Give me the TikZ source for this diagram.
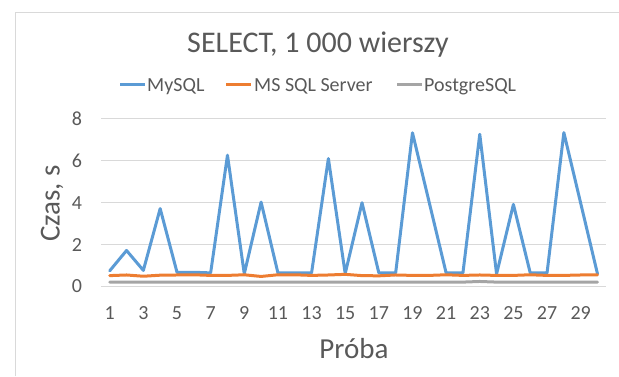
\documentclass[tikz,border=0pt]{standalone}
\usepackage{fontspec}
\setmainfont{Carlito}
\usepackage{tikz}
\usetikzlibrary{positioning,calc}
\definecolor{mysqlBlue}{RGB}{91,155,213}
\definecolor{mssqlOrange}{RGB}{237,125,49}
\definecolor{pgGray}{RGB}{165,165,165}
\definecolor{labelGray}{RGB}{89,89,89}
\definecolor{gridGray}{RGB}{217,217,217}
\tikzstyle{series}    =[line width=3pt, line join=round, line cap=round]
\tikzstyle{legendLine}=[line width=3pt]
\tikzstyle{gridLine}  =[draw=gridGray, line width=1pt]
\tikzstyle{tickLabel} =[text=labelGray, font=\fontsize{20}{24}\selectfont, inner sep=0pt]
\tikzstyle{legendText}=[text=labelGray, font=\fontsize{20}{24}\selectfont, inner sep=0pt, anchor=base west]
\tikzstyle{axisTitle} =[text=labelGray, font=\fontsize{29}{34}\selectfont, inner sep=0pt]
\tikzstyle{chartTitle}=[text=labelGray, font=\fontsize{30}{36}\selectfont, inner sep=0pt]

\begin{document}
\begin{tikzpicture}[x=1pt,y=1pt]
      \useasboundingbox (0,0) rectangle (619,376);
      \draw[gridLine] (15.7,0) -- (15.7,363.3) -- (619,363.3);
      \node [chartTitle, anchor=base] (title) at (318,324) {SELECT, 1 000 wierszy};
      \coordinate (lgMy) at (120,292);
      \coordinate (lgMs) at (226,292);
      \coordinate (lgPg) at (397,292);
      \draw[legendLine, mysqlBlue]   (lgMy) -- ++(25,0);
      \draw[legendLine, mssqlOrange] (lgMs) -- ++(25,0);
      \draw[legendLine, pgGray]      (lgPg) -- ++(25,0);
      \node [legendText] (lgMyText) at ($(lgMy)+(27,-7)$) {MySQL};
      \node [legendText] (lgMsText) at ($(lgMs)+(28,-7)$) {MS SQL Server};
      \node [legendText] (lgPgText) at ($(lgPg)+(27,-7)$) {PostgreSQL};
      \node [axisTitle, rotate=90] (yTitle) at (52,172.5) {Czas, s};
      \node [axisTitle, anchor=base] (xTitle) at (354,18) {Próba};
      \begin{scope}[shift={(92.9,89.5)}, x=16.82pt, y=20.94pt]
        \foreach \v in {0,2,...,8} {
          \draw[gridLine] (0.5,\v) -- (30.5,\v);
          \node [tickLabel, anchor=east, xshift=-19pt] (yt\v) at (0.5,\v) {\v};
        }
        \foreach \t in {1,3,...,29}
          \node [tickLabel, anchor=base, yshift=-32.5pt] (xt\t) at (\t,0) {\t};
        \draw[series, mysqlBlue] plot coordinates {
          (1,0.75) (2,1.72) (3,0.77) (4,3.72) (5,0.68) (6,0.68) (7,0.65) (8,6.27)
          (9,0.61) (10,4.03) (11,0.65) (12,0.65) (13,0.65) (14,6.11) (15,0.62)
          (16,4.0) (17,0.65) (18,0.65) (19,7.34) (20,4.0) (21,0.65) (22,0.65)
          (23,7.27) (24,0.6) (25,3.92) (26,0.65) (27,0.65) (28,7.35) (29,3.98) (30,0.6)};
        \draw[series, mssqlOrange] plot coordinates {
          (1,0.52) (2,0.55) (3,0.49) (4,0.54) (5,0.55) (6,0.56) (7,0.53) (8,0.53)
          (9,0.56) (10,0.48) (11,0.56) (12,0.56) (13,0.53) (14,0.55) (15,0.58)
          (16,0.52) (17,0.51) (18,0.55) (19,0.53) (20,0.53) (21,0.56) (22,0.53)
          (23,0.55) (24,0.53) (25,0.53) (26,0.56) (27,0.53) (28,0.53) (29,0.55) (30,0.56)};
        \draw[series, pgGray] plot coordinates {
          (1,0.21) (5,0.21) (10,0.21) (15,0.21) (20,0.21) (22,0.21) (23,0.24)
          (24,0.21) (30,0.21)};
      \end{scope}
    \end{tikzpicture}
\end{document}
